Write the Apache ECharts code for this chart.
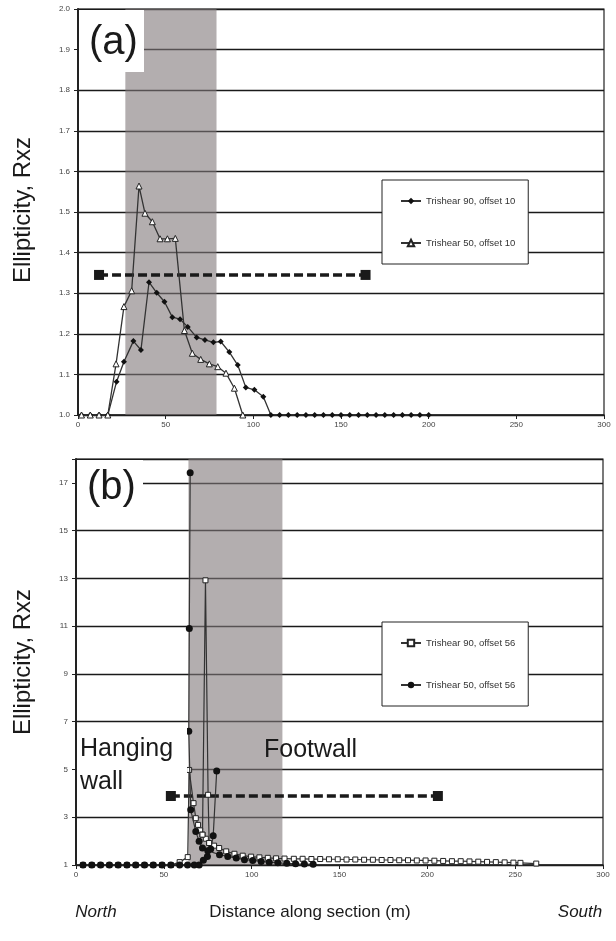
<!DOCTYPE html>
<html>
<head>
<meta charset="utf-8">
<script src="https://cdn.jsdelivr.net/npm/echarts@6/dist/echarts.min.js"></script>
<style>
  html, body { margin: 0; padding: 0; background: #fff; }
  #chart { width: 616px; height: 941px; }
</style>
</head>
<body>
<div id="chart"></div>
<script>
// panel (a): offset 10
const a90x = [2, 7, 12, 17, 22, 26.2, 31.6, 35.9, 40.5, 44.9, 49.3, 53.8, 58.2, 62.6, 67.7, 72.4, 77.2, 81.4, 86.3, 91.1, 95.7, 100.6, 105.7,
  110, 115, 120, 125, 130, 135, 140, 145, 150, 155, 160, 165, 170, 175, 180, 185, 190, 195, 200]
const a90y = [1, 1, 1, 1, 1.082, 1.131, 1.182, 1.16, 1.327, 1.301, 1.279, 1.241, 1.236, 1.217, 1.191, 1.185, 1.179, 1.181, 1.155, 1.123, 1.068, 1.062, 1.045,
  1, 1, 1, 1, 1, 1, 1, 1, 1, 1, 1, 1, 1, 1, 1, 1, 1, 1, 1]
const a50x = [2, 7, 12, 17, 21.7, 26.2, 30.6, 34.8, 38.2, 42.4, 46.8, 51, 55.5, 60.7, 65.2, 70, 74.9, 79.7, 84.4, 89.2, 94]
const a50y = [1, 1, 1, 1, 1.126, 1.267, 1.306, 1.564, 1.497, 1.476, 1.434, 1.434, 1.435, 1.208, 1.152, 1.137, 1.126, 1.119, 1.103, 1.066, 1.0]
const aDashX = [12, 164]
const aDashY = [1.345, 1.345]
const aBand = [27, 79]

// panel (b): offset 56
const b90x = [4, 9, 14, 19, 24, 29, 34, 39, 44, 49, 54, 59, 63.6, 64.4, 66.9, 68.2, 69.5, 70.7, 72, 73.9, 75.8, 78.6, 81.5, 85.5, 90.2, 94.9,
  99.7, 104.4, 109.2, 113.9, 118.7, 124, 129, 134, 139, 144, 149, 154, 159, 164, 169, 174, 179, 184, 189, 194, 199, 204, 209, 214,
  219, 224, 229, 234, 239, 244, 249, 253, 262]
const b90y = [1, 1, 1, 1, 1, 1, 1, 1, 1, 1, 1, 1.12, 1.33, 4.98, 3.59, 2.96, 2.68, 2.45, 2.27, 2.1, 1.92, 1.81, 1.71, 1.57, 1.47, 1.39,
  1.35, 1.32, 1.3, 1.28, 1.27, 1.26, 1.26, 1.25, 1.25, 1.24, 1.24, 1.23, 1.23, 1.22, 1.22, 1.21, 1.21, 1.2, 1.2, 1.19, 1.19, 1.18, 1.17, 1.16,
  1.16, 1.15, 1.14, 1.13, 1.12, 1.11, 1.1, 1.09, 1.06]
const b90spikeX = [72, 73.7, 75.2, 75.8]
const b90spikeY = [2.27, 12.92, 3.94, 1.92]
const b50x = [4, 9, 14, 19, 24, 29, 34, 39, 44, 49, 54, 59, 63.5, 67.3, 70.1, 72.5, 74.8, 76.7, 78.1, 80.1]
const b50y = [1, 1, 1, 1, 1, 1, 1, 1, 1, 1, 1, 1, 1, 1, 1, 1.2, 1.36, 1.67, 2.22, 4.94]
const b50spikeX = [65, 64.5, 64.2, 65.3, 68.2, 70.1, 72, 75, 81.7, 86.4, 91.2, 95.9, 100.6, 105.4, 110, 114.9, 120, 125, 130, 135]
const b50spikeY = [17.42, 10.9, 6.6, 3.31, 2.4, 1.99, 1.71, 1.6, 1.43, 1.36, 1.29, 1.22, 1.19, 1.15, 1.12, 1.09, 1.07, 1.05, 1.04, 1.03]
const bDashX = [54, 206]
const bDashY = [3.89, 3.89]
const bBand = [64, 117.5]

const xTicks = [0, 300, 50]

function pairs(xs, ys) {
    return xs.map((x, i) => [x, ys[i]])
}

let myChart = echarts.init(document.getElementById('chart'))

const lineDark = '#333'
const bandColor = 'rgba(128, 120, 122, 0.6)'

function xAxisFor(idx) {
    return {
        type: 'value', gridIndex: idx, min: xTicks[0], max: xTicks[1], interval: xTicks[2],
        axisLine: { show: true, onZero: false, lineStyle: { color: '#222', width: 1.5 } },
        axisTick: { show: true, length: 4, lineStyle: { color: '#222' } },
        axisLabel: { fontSize: 8, color: '#444', margin: 6, fontFamily: 'Liberation Sans' },
        splitLine: { show: false }
    }
}
function yAxisFor(idx, min, max, interval, fmt) {
    return {
        type: 'value', gridIndex: idx, min: min, max: max, interval: interval,
        axisLine: { show: true, lineStyle: { color: '#222', width: 2 } },
        axisTick: { show: true, length: 4, lineStyle: { color: '#222' } },
        axisLabel: { fontSize: 8, color: '#444', margin: 8, fontFamily: 'Liberation Sans', formatter: fmt },
        splitLine: { show: true, lineStyle: { color: '#1a1a1a', width: 1.3 } }
    }
}

function bandSeries(idx, band) {
    return {
        type: 'line', xAxisIndex: idx, yAxisIndex: idx, z: 1, data: [], symbol: 'none', silent: true,
        markArea: { silent: true, itemStyle: { color: bandColor }, data: [[{ xAxis: band[0] }, { xAxis: band[1] }]] }
    }
}
function dashSeries(idx, xs, ys) {
    return {
        type: 'line', xAxisIndex: idx, yAxisIndex: idx, z: 4, data: pairs(xs, ys),
        symbol: 'rect', symbolSize: 10, itemStyle: { color: '#1a1a1a' },
        lineStyle: { color: '#1a1a1a', width: 3.5, type: [9, 4] }
    }
}

const legendBase = {
    orient: 'vertical', left: 382, itemGap: 32, itemWidth: 20, itemHeight: 8,
    padding: [16, 13, 16, 18], backgroundColor: '#fff', borderColor: '#222', borderWidth: 1,
    textStyle: { fontSize: 9.5, color: '#333', fontFamily: 'Liberation Sans' }
}

myChart.setOption({
    animation: false,
    grid: [
        { left: 78, right: 12, top: 9, height: 406, show: true, borderColor: '#222', borderWidth: 1.2 },
        { left: 76, right: 13, top: 459, height: 406, show: true, borderColor: '#222', borderWidth: 1.2 }
    ],
    xAxis: [xAxisFor(0), xAxisFor(1)],
    yAxis: [
        yAxisFor(0, 1, 2, 0.1, v => v.toFixed(1)),
        yAxisFor(1, 1, 18, 2, v => (v > 17 ? '' : String(v)))
    ],
    legend: [
        Object.assign({}, legendBase, { top: 180, data: ['Trishear 90, offset 10', 'Trishear 50, offset 10'] }),
        Object.assign({}, legendBase, { top: 622, data: ['Trishear 90, offset 56', 'Trishear 50, offset 56'] })
    ],
    series: [
        bandSeries(0, aBand),
        bandSeries(1, bBand),
        dashSeries(0, aDashX, aDashY),
        dashSeries(1, bDashX, bDashY),
        {
            name: 'Trishear 90, offset 10', type: 'line', xAxisIndex: 0, yAxisIndex: 0, z: 5,
            data: pairs(a90x, a90y), symbol: 'diamond', symbolSize: 6, showAllSymbol: true,
            itemStyle: { color: '#111' }, lineStyle: { color: lineDark, width: 1.3 }
        },
        {
            name: 'Trishear 50, offset 10', type: 'line', xAxisIndex: 0, yAxisIndex: 0, z: 5,
            data: pairs(a50x, a50y), symbol: 'triangle', symbolSize: 6, showAllSymbol: true,
            itemStyle: { color: '#fff', borderColor: '#222', borderWidth: 1 }, lineStyle: { color: lineDark, width: 1.3 }
        },
        {
            name: 'Trishear 90, offset 56', type: 'line', xAxisIndex: 1, yAxisIndex: 1, z: 5,
            data: pairs(b90x, b90y), symbol: 'rect', symbolSize: 5, showAllSymbol: true,
            itemStyle: { color: '#fff', borderColor: '#222', borderWidth: 1 }, lineStyle: { color: lineDark, width: 1.2 }
        },
        {
            name: 'Trishear 90, offset 56', type: 'line', xAxisIndex: 1, yAxisIndex: 1, z: 5,
            data: pairs(b90spikeX, b90spikeY), symbol: 'rect', symbolSize: 5, showAllSymbol: true,
            itemStyle: { color: '#fff', borderColor: '#222', borderWidth: 1 }, lineStyle: { color: lineDark, width: 1.2 }
        },
        {
            name: 'Trishear 50, offset 56', type: 'line', xAxisIndex: 1, yAxisIndex: 1, z: 6,
            data: pairs(b50x, b50y), symbol: 'circle', symbolSize: 7, showAllSymbol: true,
            itemStyle: { color: '#111' }, lineStyle: { color: lineDark, width: 1.2 }
        },
        {
            name: 'Trishear 50, offset 56', type: 'line', xAxisIndex: 1, yAxisIndex: 1, z: 6,
            data: pairs(b50spikeX, b50spikeY), symbol: 'circle', symbolSize: 7, showAllSymbol: true,
            itemStyle: { color: '#111' }, lineStyle: { color: lineDark, width: 1.2 }
        }
    ],
    graphic: [
        // white label boxes
        { type: 'rect', z: 100, shape: { x: 79, y: 10, width: 65, height: 62 }, style: { fill: '#fff' } },
        { type: 'text', z: 101, x: 89, y: 23, style: { text: '(a)', font: '40px "Liberation Sans"', fill: '#1a1a1a' } },
        { type: 'rect', z: 100, shape: { x: 77, y: 460, width: 66, height: 60 }, style: { fill: '#fff' } },
        { type: 'text', z: 101, x: 87, y: 468, style: { text: '(b)', font: '40px "Liberation Sans"', fill: '#1a1a1a' } },
        { type: 'rect', z: 100, shape: { x: 77, y: 724, width: 110, height: 64 }, style: { fill: '#fff' } },
        { type: 'text', z: 101, x: 80, y: 737, style: { text: 'Hanging', font: '25px "Liberation Sans"', fill: '#1a1a1a' } },
        { type: 'text', z: 101, x: 80, y: 770, style: { text: 'wall', font: '25px "Liberation Sans"', fill: '#1a1a1a' } },
        { type: 'text', z: 101, x: 264, y: 738, style: { text: 'Footwall', font: '25px "Liberation Sans"', fill: '#1a1a1a' } },
        // axis titles
        { type: 'text', z: 101, x: 23, y: 210, rotation: Math.PI / 2,
          style: { text: 'Ellipticity, Rxz', font: '24px "Liberation Sans"', fill: '#1a1a1a', align: 'center', verticalAlign: 'middle' } },
        { type: 'text', z: 101, x: 23, y: 662, rotation: Math.PI / 2,
          style: { text: 'Ellipticity, Rxz', font: '24px "Liberation Sans"', fill: '#1a1a1a', align: 'center', verticalAlign: 'middle' } },
        { type: 'text', z: 101, x: 96, y: 912,
          style: { text: 'North', font: 'italic 17px "Liberation Sans"', fill: '#1a1a1a', align: 'center', verticalAlign: 'middle' } },
        { type: 'text', z: 101, x: 310, y: 912,
          style: { text: 'Distance along section (m)', font: '17px "Liberation Sans"', fill: '#1a1a1a', align: 'center', verticalAlign: 'middle' } },
        { type: 'text', z: 101, x: 580, y: 912,
          style: { text: 'South', font: 'italic 17px "Liberation Sans"', fill: '#1a1a1a', align: 'center', verticalAlign: 'middle' } }
    ]
})
</script>
</body>
</html>
